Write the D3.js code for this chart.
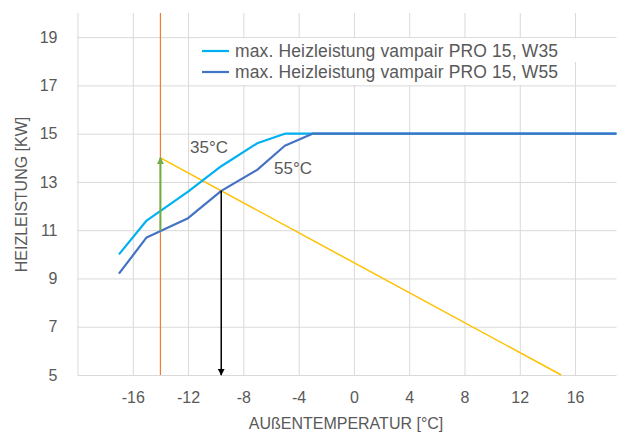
<!DOCTYPE html>
<html>
<head>
<meta charset="utf-8">
<script src="https://cdn.jsdelivr.net/npm/d3@7"></script>
<style>
  body { margin: 0; background: #fff; }
  text { font-family: "Liberation Sans", Arial, sans-serif; fill: #595959; }
</style>
</head>
<body>
<div id="chart"></div>
<script>
// heating capacity curves (outdoor temp -> kW)
var tempW35 = [-17, -15, -12, -9.6, -7, -5, 19];
var kwW35 = [10, 11.4, 12.6, 13.65, 14.6, 15, 15];
var tempW55 = [-17, -15, -12, -9.6, -7, -5, -3, 19];
var kwW55 = [9.2, 10.7, 11.5, 12.63, 13.5, 14.5, 15, 15];

// building heat load line
var tempLoad = [-14, 15];
var kwLoad = [14, 5];

// design temperature and bivalence point
var designTemp = -14;
var designArrowKw = [10.97, 14];
var bivalentTemp = -9.6;
var bivalentArrowKw = [12.63, 5];

var xTicks = [-20, -16, -12, -8, -4, 0, 4, 8, 12, 16];
var yTicks = [5, 7, 9, 11, 13, 15, 17, 19];

var seriesNames = ["max. Heizleistung vampair PRO 15, W35", "max. Heizleistung vampair PRO 15, W55"];
var seriesColors = ["#00b0f0", "#4472c4"];

var width = 620, height = 432;

var svg = d3.select("#chart").append("svg")
    .attr("width", width)
    .attr("height", height);

var defs = svg.append("defs");
function arrowMarker(id, color) {
    defs.append("marker")
        .attr("id", id)
        .attr("viewBox", "0 0 10 10")
        .attr("refX", 9)
        .attr("refY", 5)
        .attr("markerWidth", 7)
        .attr("markerHeight", 7)
        .attr("markerUnits", "userSpaceOnUse")
        .attr("orient", "auto")
        .append("path")
        .attr("d", "M0,0 L10,5 L0,10 Z")
        .attr("fill", color);
}
arrowMarker("arrGreen", "#70ad47");
arrowMarker("arrBlack", "#000");

// Set the ranges
var x = d3.scaleLinear().domain([-20, 19]).range([77.5, 616.5]);
var y = d3.scaleLinear().domain([5, 20]).range([375, 13]);

// plain hyphen for negatives, like the original
var fmt = function(d) { return String(d); };

// gridlines
svg.append("g")
    .attr("class", "xgrid")
    .attr("transform", "translate(0,375)")
    .call(d3.axisBottom(x).tickValues(xTicks).tickSize(-362).tickFormat(""))
    .call(function(g) { g.select(".domain").remove(); })
    .selectAll("line").attr("stroke", "#d9d9d9");

svg.append("g")
    .attr("class", "ygrid")
    .attr("transform", "translate(77.5,0)")
    .call(d3.axisLeft(y).tickValues(yTicks).tickSize(-539).tickFormat(""))
    .call(function(g) { g.select(".domain").remove(); })
    .selectAll("line").attr("stroke", "#d9d9d9");

// tick labels
var xAxis = svg.append("g")
    .attr("transform", "translate(0,375)")
    .call(d3.axisBottom(x).tickValues(xTicks.slice(1)).tickSize(0).tickPadding(17).tickFormat(fmt));
xAxis.select(".domain").remove();
xAxis.selectAll("text").style("font-size", "16px").style("fill", "#595959")
    .style("font-family", "'Liberation Sans', Arial, sans-serif");

var yAxis = svg.append("g")
    .attr("transform", "translate(77.5,0)")
    .call(d3.axisLeft(y).tickValues(yTicks).tickSize(0).tickPadding(20).tickFormat(fmt));
yAxis.select(".domain").remove();
yAxis.selectAll("text").style("font-size", "16px").style("fill", "#595959")
    .style("font-family", "'Liberation Sans', Arial, sans-serif");

// axis titles
svg.append("text")
    .attr("x", 346)
    .attr("y", 429)
    .attr("text-anchor", "middle")
    .style("font-size", "16px")
    .text("AUßENTEMPERATUR [°C]");

svg.append("text")
    .attr("transform", "translate(27,194.5) rotate(-90)")
    .attr("text-anchor", "middle")
    .style("font-size", "16px")
    .text("HEIZLEISTUNG [KW]");

// legend background
svg.append("rect").attr("x", 198).attr("y", 38).attr("width", 369).attr("height", 47).attr("fill", "#fff");
svg.append("rect").attr("x", 567).attr("y", 38).attr("width", 50).attr("height", 24).attr("fill", "#fff");

var line = d3.line()
    .x(function(d) { return x(d[0]); })
    .y(function(d) { return y(d[1]); });

// design temperature line
svg.append("path")
    .attr("d", line([[designTemp, 5], [designTemp, 20]]))
    .attr("stroke", "#ed7d31")
    .attr("stroke-width", 1.2)
    .attr("fill", "none");

// heat load
svg.append("path")
    .attr("d", line(d3.zip(tempLoad, kwLoad)))
    .attr("stroke", "#ffc000")
    .attr("stroke-width", 1.5)
    .attr("fill", "none");

// capacity curves
var series = [d3.zip(tempW35, kwW35), d3.zip(tempW55, kwW55)];
series.forEach(function(s, i) {
    svg.append("path")
        .attr("d", line(s))
        .attr("stroke", seriesColors[i])
        .attr("stroke-width", 2.2)
        .attr("stroke-linejoin", "round")
        .attr("fill", "none");
});

// arrows
svg.append("path")
    .attr("d", line([[designTemp, designArrowKw[0]], [designTemp, designArrowKw[1]]]))
    .attr("stroke", "#70ad47")
    .attr("stroke-width", 2)
    .attr("fill", "none")
    .attr("marker-end", "url(#arrGreen)");

svg.append("path")
    .attr("d", line([[bivalentTemp, bivalentArrowKw[0]], [bivalentTemp, bivalentArrowKw[1]]]))
    .attr("stroke", "#000")
    .attr("stroke-width", 1.5)
    .attr("fill", "none")
    .attr("marker-end", "url(#arrBlack)");

// curve labels
svg.append("text").attr("x", 190).attr("y", 153).style("font-size", "17px").text("35°C");
svg.append("text").attr("x", 274).attr("y", 174).style("font-size", "17px").text("55°C");

// legend
var legendY = [51, 72];
seriesNames.forEach(function(name, i) {
    svg.append("line")
        .attr("x1", 202).attr("x2", 229)
        .attr("y1", legendY[i]).attr("y2", legendY[i])
        .attr("stroke", seriesColors[i])
        .attr("stroke-width", 2.2);
    svg.append("text")
        .attr("x", 235)
        .attr("y", legendY[i] + 6)
        .attr("textLength", 323)
        .style("font-size", "17.5px")
        .text(name);
});
</script>
</body>
</html>
